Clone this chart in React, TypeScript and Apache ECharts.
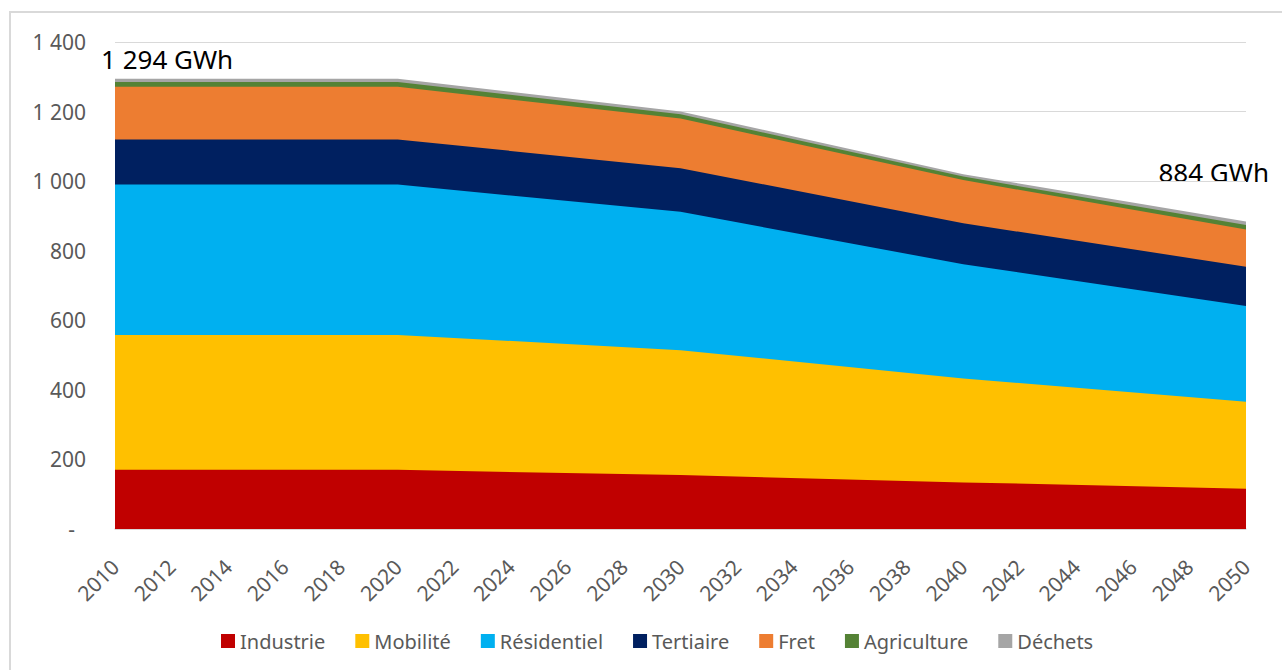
import React, { useEffect, useRef } from "react";
import * as echarts from "echarts";

const years = [2010, 2020, 2030, 2040, 2050];
const industrie = [170, 170, 155, 134, 116];
const mobilite = [388, 388, 359, 299, 250];
const residentiel = [432, 432, 398, 328, 275];
const tertiaire = [130, 130, 125, 118, 113];
const fret = [151, 151, 143, 124, 107];
const agriculture = [14, 14, 12, 10, 13];
const dechets = [9, 9, 8, 7, 10];

const seriesDefs = [
  { name: "Industrie", data: industrie, color: "#C00000" },
  { name: "Mobilité", data: mobilite, color: "#FFC000" },
  { name: "Résidentiel", data: residentiel, color: "#00B0F0" },
  { name: "Tertiaire", data: tertiaire, color: "#002060" },
  { name: "Fret", data: fret, color: "#ED7D31" },
  { name: "Agriculture", data: agriculture, color: "#548235" },
  { name: "Déchets", data: dechets, color: "#A5A5A5" },
];

const fmt = (n: number) => String(Math.round(n)).replace(/\B(?=(\d{3})+(?!\d))/g, " ");

const FONT = "'Noto Sans', 'Open Sans', sans-serif";
const GREY = "#595959";

export default function App() {
  const ref = useRef<HTMLDivElement>(null);
  useEffect(() => {
    if (!ref.current) return;
    const chart = echarts.init(ref.current, undefined, { renderer: "svg" });
    // cumulative tops (stack) built from the series arrays
    const cumul: number[][] = [];
    seriesDefs.forEach((d, k) => {
      cumul.push(d.data.map((v, i) => v + (k > 0 ? cumul[k - 1][i] : 0)));
    });
    const totals = cumul[cumul.length - 1];
    const order = seriesDefs.map((_, k) => k).reverse();
    chart.setOption({
      animation: false,
      textStyle: { fontFamily: FONT },
      grid: { left: 115, right: 36, top: 42, bottom: 141, containLabel: false },
      xAxis: {
        type: "value",
        min: 2010,
        max: 2050,
        interval: 2,
        axisLine: { show: true, lineStyle: { color: "#D9D9D9", width: 1.5 } },
        axisTick: { show: false },
        splitLine: { show: false },
        axisLabel: {
          rotate: 45,
          margin: 34,
          fontSize: 21,
          color: GREY,
          fontFamily: FONT,
          formatter: (v: number) => String(v),
        },
      },
      yAxis: {
        type: "value",
        min: 0,
        max: 1400,
        interval: 200,
        axisLine: { show: false },
        axisTick: { show: false },
        splitLine: { show: true, lineStyle: { color: "#D9D9D9", width: 1 } },
        axisLabel: {
          margin: 29,
          fontSize: 21,
          color: GREY,
          fontFamily: FONT,
          formatter: (v: number) => (v === 0 ? "{d|-}" : fmt(v)),
          rich: { d: { padding: [0, 11, 0, 0], fontSize: 21, color: GREY, fontFamily: FONT } },
        },
      },
      legend: {
        left: 216,
        top: 626,
        icon: "rect",
        itemWidth: 14,
        itemHeight: 14,
        itemGap: 30,
        textStyle: { fontSize: 20, color: GREY, fontFamily: FONT },
        data: seriesDefs.map((d) => d.name),
      },
      series: order.map((k) => {
        const d = seriesDefs[k];
        return {
          name: d.name,
          type: "line",
          symbol: "none",
          lineStyle: { width: 0 },
          areaStyle: { color: d.color, opacity: 1 },
          itemStyle: { color: d.color },
          data: years.map((y, i) => [y, cumul[k][i]]),
        };
      }),
      graphic: [
        {
          type: "rect",
          shape: { x: 10, y: 12, width: 1400, height: 800 },
          style: { fill: "none", stroke: "#D9D9D9", lineWidth: 2 },
          silent: true,
        },
        {
          type: "text",
          x: 101,
          y: 59,
          style: {
            text: fmt(totals[0]) + " GWh",
            fontSize: 26,
            fontFamily: FONT,
            fill: "#000000",
            textAlign: "left",
            textVerticalAlign: "middle",
          },
        },
        {
          type: "text",
          x: 1269,
          y: 172,
          style: {
            text: fmt(totals[totals.length - 1]) + " GWh",
            fontSize: 26,
            fontFamily: FONT,
            fill: "#000000",
            textAlign: "right",
            textVerticalAlign: "middle",
          },
        },
      ],
    });
    return () => chart.dispose();
  }, []);
  return (
    <div
      ref={ref}
      style={{ position: "fixed", left: 0, top: 0, width: 1282, height: 670, background: "#fff" }}
    />
  );
}
